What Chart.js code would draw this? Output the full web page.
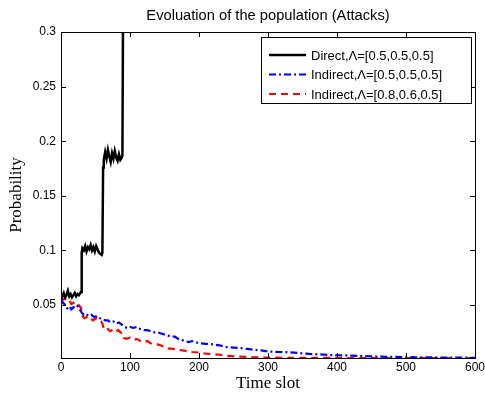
<!DOCTYPE html>
<html lang="en">
<head>
<meta charset="UTF-8">
<title>Evoluation of the population (Attacks)</title>
<script src="https://cdn.jsdelivr.net/npm/chart.js@4.4.0/dist/chart.umd.min.js"></script>
<style>
    html, body { margin: 0; padding: 0; background: #fff; }
    #wrap { width: 485px; height: 401px; }
</style>
</head>
<body>
<div id="wrap"><canvas id="myChart" width="485" height="401"></canvas></div>

<script>
// data
var directT = [0, 2, 4, 6, 8, 10, 12, 14, 16, 18, 20, 22, 24, 26, 28, 29,
    30, 31, 33, 35, 37, 39, 41, 43, 45, 47, 49, 51, 53, 55, 57, 59, 60,
    61, 62, 64, 66, 68, 70, 72, 74, 76, 78, 80, 82, 84, 86, 88, 89, 90, 91];
var directP = [0.060, 0.058, 0.061, 0.057, 0.059, 0.063, 0.058, 0.060, 0.057, 0.059, 0.061, 0.058, 0.060, 0.059, 0.061, 0.062,
    0.098, 0.102, 0.100, 0.104, 0.099, 0.103, 0.101, 0.105, 0.100, 0.103, 0.099, 0.104, 0.101, 0.098, 0.097, 0.096, 0.098,
    0.176, 0.183, 0.190, 0.184, 0.192, 0.186, 0.181, 0.189, 0.184, 0.191, 0.185, 0.182, 0.188, 0.183, 0.185, 0.187, 0.33, 0.40];

var indirect1T = [0, 3, 6, 9, 12, 15, 18, 21, 24, 27, 30, 33, 36, 40, 44, 48, 52, 56, 60, 64, 68, 72, 76, 80, 84, 88,
    92, 96, 100, 105, 110, 115, 120, 125, 130, 135, 140, 145, 150, 155, 160, 165, 170, 175, 180, 185, 190, 195, 200,
    210, 220, 230, 240, 250, 260, 270, 280, 290, 300, 315, 330, 345, 360, 375, 390, 405, 420, 435, 450, 465, 480,
    500, 520, 540, 560, 580, 600];
var indirect1P = [0.055, 0.052, 0.050, 0.047, 0.049, 0.046, 0.048, 0.047, 0.049, 0.046, 0.043, 0.041, 0.042, 0.040, 0.041, 0.039, 0.040, 0.038, 0.037, 0.036, 0.036, 0.034, 0.035, 0.033, 0.034, 0.032,
    0.030, 0.029, 0.030, 0.029, 0.030, 0.028, 0.027, 0.027, 0.026, 0.025, 0.025, 0.024, 0.023, 0.022, 0.021, 0.021, 0.019, 0.018, 0.017, 0.016, 0.017, 0.016, 0.015,
    0.0145, 0.014, 0.013, 0.0115, 0.011, 0.0105, 0.0098, 0.009, 0.0085, 0.0075, 0.007, 0.0068, 0.006, 0.0052, 0.0048, 0.0042, 0.0040, 0.0036, 0.0033, 0.003, 0.0027, 0.0025,
    0.0023, 0.0021, 0.002, 0.0019, 0.0018, 0.0017];

var indirect2T = [0, 3, 6, 9, 12, 15, 18, 21, 24, 27, 29, 31, 34, 37, 40, 43, 46, 49, 52, 55, 58, 60,
    62, 65, 68, 71, 74, 77, 80, 83, 86, 89, 91, 95, 100, 105, 110, 115, 120, 125, 130, 135, 140, 145, 150,
    155, 160, 170, 180, 190, 200, 210, 220, 230, 240, 250, 260, 275, 290, 310, 330, 360, 390, 420, 450, 480,
    510, 540, 570, 600];
var indirect2P = [0.057, 0.055, 0.056, 0.053, 0.054, 0.051, 0.052, 0.050, 0.051, 0.049, 0.047, 0.040, 0.038, 0.039, 0.037, 0.038, 0.036, 0.037, 0.038, 0.036, 0.035, 0.033,
    0.028, 0.027, 0.028, 0.026, 0.027, 0.028, 0.026, 0.027, 0.025, 0.024, 0.020, 0.019, 0.020, 0.018, 0.019, 0.017, 0.016, 0.017, 0.015, 0.014, 0.014, 0.013, 0.011,
    0.010, 0.010, 0.009, 0.008, 0.007, 0.0065, 0.0055, 0.005, 0.0045, 0.0035, 0.003, 0.0028, 0.0022, 0.002, 0.0018, 0.0017, 0.0016, 0.0016, 0.0015, 0.0015, 0.0015,
    0.0015, 0.0015, 0.0015, 0.0015];

var seriesLabels = ["Direct,\u039B=[0.5,0.5,0.5]", "Indirect,\u039B=[0.5,0.5,0.5]", "Indirect,\u039B=[0.8,0.6,0.5]"];
var chartTitle = 'Evoluation of the population (Attacks)';
var xTicks = [0, 100, 200, 300, 400, 500, 600];
var yTicks = [0.05, 0.1, 0.15, 0.2, 0.25, 0.3];

function toPoints(xs, ys) {
    var pts = [];
    for (var i = 0; i < xs.length; i++) {
        pts.push({ x: xs[i], y: ys[i] });
    }
    return pts;
}

var sansFont = "'Liberation Sans', Helvetica, Arial, sans-serif";
var serifFont = "'Liberation Serif', 'Times New Roman', serif";

// box + inward ticks on all four sides, MATLAB style, plus title and legend
var boxPlugin = {
    id: 'boxPlugin',
    afterDatasetsDraw: function (chart) {
        var ctx = chart.ctx;
        var a = chart.chartArea;
        var xs = chart.scales.x, ys = chart.scales.y;
        ctx.save();
        ctx.strokeStyle = '#000';
        ctx.lineWidth = 1;
        ctx.beginPath();
        xTicks.forEach(function (t) {
            var px = Math.round(xs.getPixelForValue(t)) + 0.5;
            ctx.moveTo(px, a.bottom); ctx.lineTo(px, a.bottom - 5);
            ctx.moveTo(px, a.top); ctx.lineTo(px, a.top + 5);
        });
        yTicks.forEach(function (t) {
            var py = Math.round(ys.getPixelForValue(t)) + 0.5;
            ctx.moveTo(a.left, py); ctx.lineTo(a.left + 5, py);
            ctx.moveTo(a.right, py); ctx.lineTo(a.right - 5, py);
        });
        ctx.stroke();
        ctx.strokeRect(Math.round(a.left) + 0.5, Math.round(a.top) + 0.5,
            Math.round(a.right - a.left), Math.round(a.bottom - a.top));

        // title centred over the plot area
        ctx.fillStyle = '#000';
        ctx.font = '14.7px ' + sansFont;
        ctx.textAlign = 'center';
        ctx.textBaseline = 'middle';
        ctx.fillText(chartTitle, (a.left + a.right) / 2, a.top - 16);

        // legend box
        var lx = a.right - 214, ly = a.top + 5, lw = 210, lh = 66;
        ctx.fillStyle = '#fff';
        ctx.fillRect(lx, ly, lw, lh);
        ctx.strokeRect(lx + 0.5, ly + 0.5, lw, lh);
        ctx.font = '13px ' + sansFont;
        ctx.textAlign = 'left';
        chart.data.datasets.forEach(function (ds, i) {
            var yy = ly + 18 + i * 19.5;
            ctx.save();
            ctx.strokeStyle = ds.borderColor;
            ctx.lineWidth = ds.borderWidth;
            ctx.setLineDash(ds.borderDash || []);
            ctx.beginPath();
            ctx.moveTo(lx + 8, yy);
            ctx.lineTo(lx + 45, yy);
            ctx.stroke();
            ctx.restore();
            ctx.fillStyle = '#000';
            ctx.fillText(ds.label, lx + 50, yy + 1);
        });
        ctx.restore();
    }
};

var ctx = document.getElementById('myChart');
var myChart = new Chart(ctx, {
    type: 'line',
    data: {
        datasets: [
            {
                label: seriesLabels[0],
                data: toPoints(directT, directP),
                borderColor: '#000',
                borderWidth: 2.5,
                pointRadius: 0,
                tension: 0
            },
            {
                label: seriesLabels[1],
                data: toPoints(indirect1T, indirect1P),
                borderColor: '#0000ff',
                borderWidth: 2.2,
                borderDash: [7, 3, 2, 3],
                pointRadius: 0,
                tension: 0
            },
            {
                label: seriesLabels[2],
                data: toPoints(indirect2T, indirect2P),
                borderColor: '#ff0000',
                borderWidth: 2.2,
                borderDash: [7, 5],
                pointRadius: 0,
                tension: 0
            }
        ]
    },
    options: {
        responsive: false,
        maintainAspectRatio: false,
        animation: false,
        layout: { padding: { left: 0, right: 10, top: 32, bottom: 0 } },
        plugins: {
            legend: { display: false },
            tooltip: { enabled: false },
            title: { display: false }
        },
        scales: {
            x: {
                type: 'linear',
                min: 0,
                max: 600,
                afterBuildTicks: function (s) { s.ticks = xTicks.map(function (v) { return { value: v }; }); },
                afterFit: function (s) { s.height = 43; s.paddingLeft = 0; s.paddingRight = 0; },
                grid: { display: false, drawTicks: false },
                border: { display: false },
                ticks: {
                    color: '#000',
                    padding: 2,
                    maxRotation: 0,
                    font: { family: sansFont, size: 12 }
                },
                title: {
                    display: true,
                    text: 'Time slot',
                    color: '#000',
                    font: { family: serifFont, size: 17 },
                    padding: { top: 0, bottom: 7 }
                }
            },
            y: {
                min: 0.0015,
                max: 0.3,
                afterBuildTicks: function (s) { s.ticks = yTicks.map(function (v) { return { value: v }; }); },
                afterFit: function (s) { s.width = 61; s.paddingTop = 0; s.paddingBottom = 0; },
                grid: { display: false, drawTicks: false },
                border: { display: false },
                ticks: {
                    color: '#000',
                    padding: 5,
                    font: { family: sansFont, size: 12 },
                    callback: function (v) { return String(parseFloat(v.toFixed(2))); }
                },
                title: {
                    display: true,
                    text: 'Probability',
                    color: '#000',
                    font: { family: serifFont, size: 17 },
                    padding: { top: 6, bottom: 0 }
                }
            }
        }
    },
    plugins: [boxPlugin]
});
</script>
</body>
</html>
